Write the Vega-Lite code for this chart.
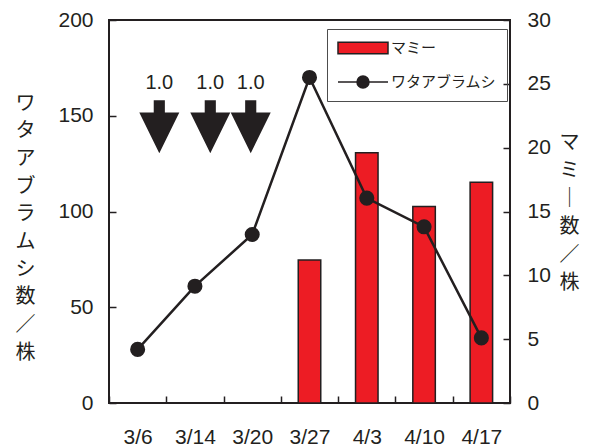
{
  "$schema": "https://vega.github.io/schema/vega-lite/v6.json",
  "width": 401,
  "height": 383,
  "autosize": {"type": "none"},
  "padding": {"left": 109, "top": 20, "right": 83, "bottom": 43},
  "background": "white",
  "config": {
    "view": {"stroke": "#231f20", "strokeWidth": 2},
    "axis": {
      "domain": false, "grid": false,
      "tickColor": "#231f20", "tickWidth": 1.5, "tickSize": -7,
      "labelColor": "#231f20", "titleColor": "#231f20",
      "labelFont": "Liberation Sans", "labelFontSize": 21,
      "titleFont": "Noto Sans CJK JP", "titleFontSize": 20, "titleFontWeight": "normal"
    },
    "legend": {
      "orient": "none", "legendX": 218, "legendY": 9,
      "strokeColor": "#4d4d4d", "padding": 10,
      "symbolSize": 256, "symbolOffset": 17, "rowPadding": 16,
      "symbolStrokeWidth": 1.5, "symbolOpacity": 1,
      "labelFont": "Noto Sans CJK JP", "labelFontSize": 15, "labelOffset": 19, "labelColor": "#231f20"
    }
  },
  "datasets": {
    "counts": [
      {"date": "3/6", "aphid": 28, "mummy": null},
      {"date": "3/14", "aphid": 61, "mummy": null},
      {"date": "3/20", "aphid": 88, "mummy": null},
      {"date": "3/27", "aphid": 170, "mummy": 11.2},
      {"date": "4/3", "aphid": 107, "mummy": 19.6},
      {"date": "4/10", "aphid": 92, "mummy": 15.4},
      {"date": "4/17", "aphid": 34, "mummy": 17.3}
    ],
    "sprays": [
      {"t": 0.878, "level": 144.3, "rate": "1.0"},
      {"t": 1.768, "level": 144.3, "rate": "1.0"},
      {"t": 2.474, "level": 144.3, "rate": "1.0"}
    ]
  },
  "layer": [
    {
      "data": {"name": "counts"},
      "mark": {"type": "bar", "size": 22.5, "color": "#ed1c24", "stroke": "#231f20", "strokeWidth": 1.5},
      "encoding": {
        "x": {
          "field": "date", "type": "nominal", "sort": null,
          "scale": {"domain": ["3/6", "3/14", "3/20", "3/27", "4/3", "4/10", "4/17"], "paddingInner": 0, "paddingOuter": 0},
          "axis": {"title": null, "labelAngle": 0, "tickBand": "extent", "labelPadding": 47, "labelBaseline": "alphabetic"}
        },
        "y": {
          "field": "mummy", "type": "quantitative",
          "scale": {"domain": [0, 30], "nice": false},
          "axis": {
            "orient": "right", "values": [0, 5, 10, 15, 20, 25, 30],
            "labelPadding": 24, "labelBaseline": "middle",
            "title": ["マ", "ミ", "｜", "数", "／", "株"],
            "titleAngle": 0, "titleX": 59, "titleY": 122,
            "titleAlign": "center", "titleBaseline": "middle", "titleLineHeight": 28
          }
        }
      }
    },
    {
      "data": {"name": "counts"},
      "mark": {"type": "line", "strokeWidth": 2.5, "color": "#231f20", "point": {"filled": true, "size": 227, "opacity": 1, "color": "#231f20"}},
      "encoding": {
        "x": {"field": "date", "type": "nominal", "sort": null, "axis": null},
        "y": {
          "field": "aphid", "type": "quantitative",
          "scale": {"domain": [0, 200], "nice": false},
          "axis": {
            "orient": "left", "values": [0, 50, 100, 150, 200],
            "labelPadding": 23, "labelBaseline": "middle",
            "title": ["ワ", "タ", "ア", "ブ", "ラ", "ム", "シ", "数", "／", "株"],
            "titleAngle": 0, "titleX": -84, "titleY": 83,
            "titleAlign": "center", "titleBaseline": "middle", "titleLineHeight": 27.7
          }
        }
      }
    },
    {
      "data": {"name": "counts"},
      "transform": [{"filter": "datum.aphid < 0"}],
      "mark": {"type": "point", "filled": true, "strokeWidth": 1.5},
      "encoding": {
        "fill": {"datum": "マミー", "scale": {"domain": ["マミー", "ワタアブラムシ"], "range": ["#ed1c24", "#231f20"]}, "legend": {"title": null}},
        "stroke": {"datum": "マミー", "scale": {"domain": ["マミー", "ワタアブラムシ"], "range": ["#231f20", "#231f20"]}, "legend": {"title": null}},
        "shape": {"datum": "マミー", "scale": {"domain": ["マミー", "ワタアブラムシ"], "range": ["M-3.125,-0.72L3.125,-0.72L3.125,0.72L-3.125,0.72Z", "M-3.125,0L3.125,0M0.75,0A0.75,0.75,0,1,1,-0.75,0A0.75,0.75,0,1,1,0.75,0Z"]}, "legend": {"title": null}}
      }
    },
    {
      "data": {"name": "sprays"},
      "encoding": {
        "x": {"field": "t", "type": "quantitative", "scale": {"domain": [0, 7], "nice": false, "zero": false}, "axis": null},
        "y": {"field": "level", "type": "quantitative", "scale": {"domain": [0, 200], "nice": false}, "axis": null}
      },
      "layer": [
        {"mark": {"type": "point", "shape": "M-0.21,-1L0.21,-1L0.21,-0.536L0.755,-0.536L0,1L-0.755,-0.536L-0.21,-0.536Z", "size": 2809, "filled": true, "color": "#231f20", "opacity": 1, "strokeWidth": 0}},
        {"mark": {"type": "text", "dy": -43.5, "font": "Liberation Sans", "fontSize": 20, "color": "#231f20", "baseline": "middle"}, "encoding": {"text": {"field": "rate"}}}
      ]
    }
  ],
  "resolve": {"scale": {"x": "independent", "y": "independent"}}
}
